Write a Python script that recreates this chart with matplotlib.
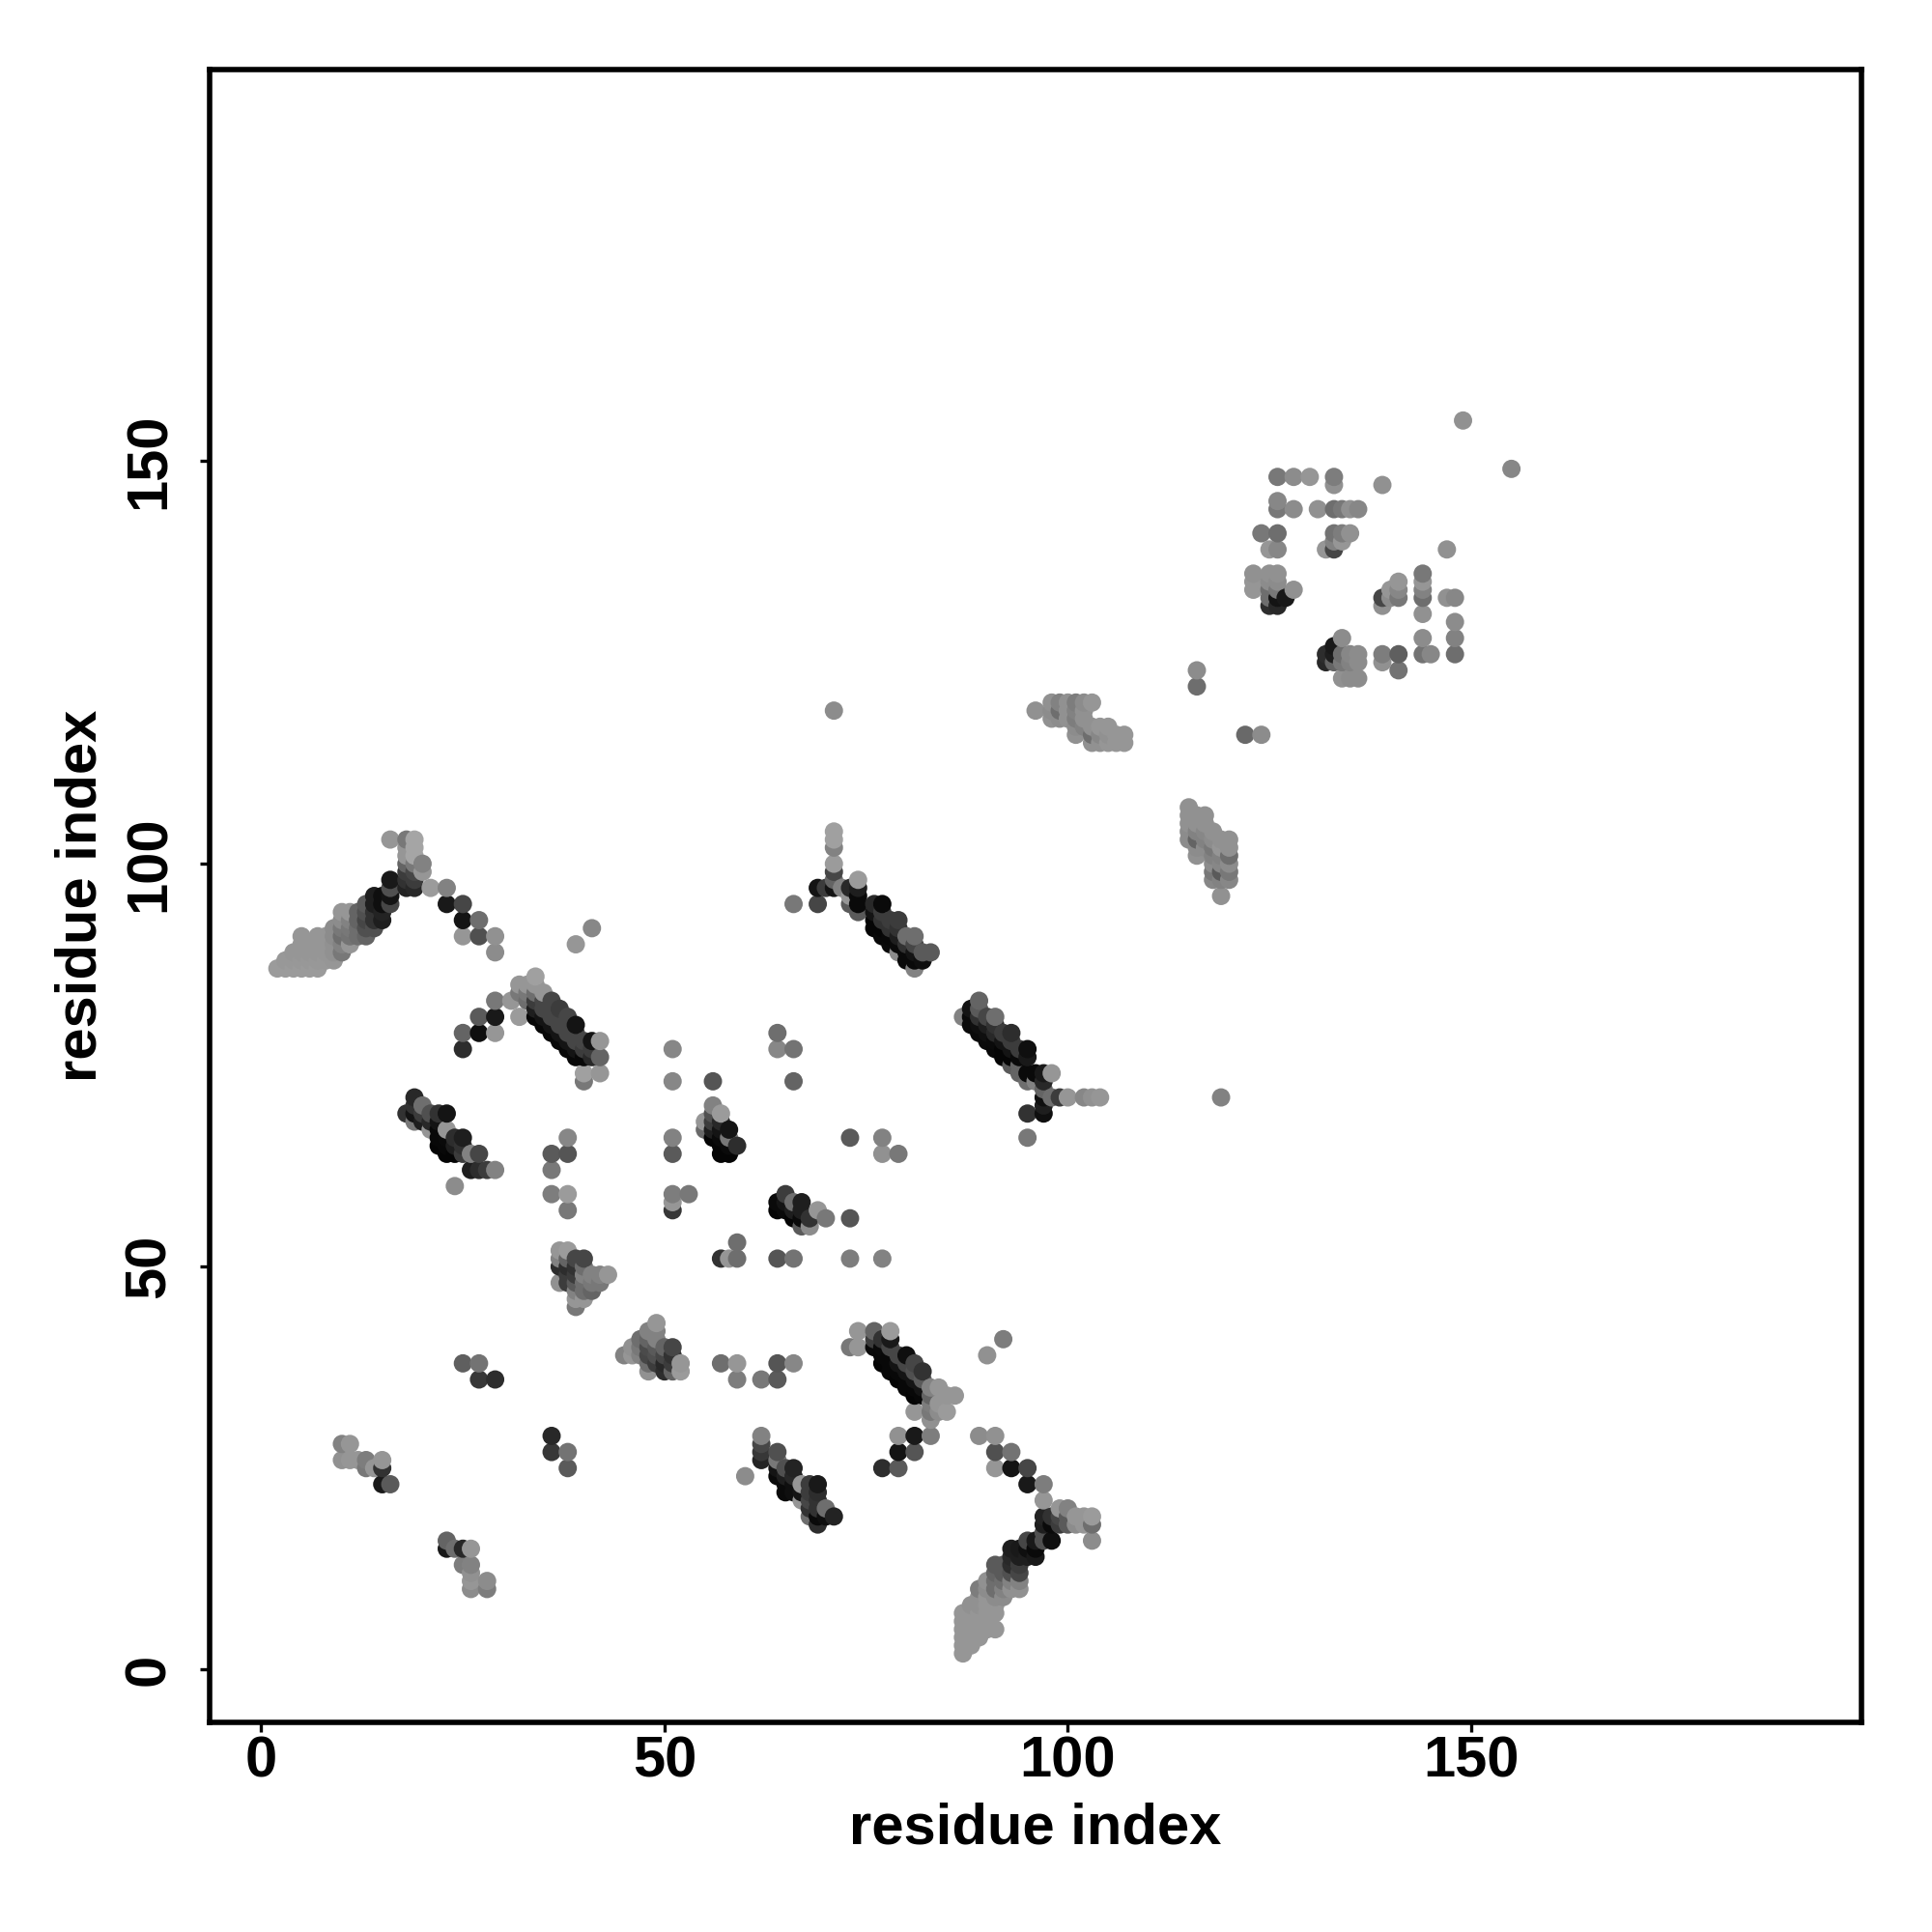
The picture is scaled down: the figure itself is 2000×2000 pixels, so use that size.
import numpy as np
import matplotlib
matplotlib.use('Agg')
import matplotlib.pyplot as plt

plt.rcParams['font.family'] = ['Liberation Sans', 'DejaVu Sans']

# contacts as (residue i, residue j, grey level 0-255), one list per cluster
strand_a = [(2,87,155),(3,87,155),(4,87,155),(5,87,155),(6,87,155),(7,87,155),
            (3,88,152),(4,88,152),(5,88,152),(6,88,152),(7,88,152),(8,88,152),(9,88,150),
            (4,89,150),(5,89,150),(6,89,150),(7,89,150),(8,89,150),(9,89,145),(10,89,120),
            (5,90,150),(6,90,150),(7,90,150),(8,90,150),(9,90,145),(10,90,130),(11,90,150),
            (5,91,150),(7,91,150),(8,91,150),(9,91,140),(10,91,110),(11,91,115),(12,91,110),(13,91,100),
            (9,92,140),(10,92,120),(11,92,120),(12,92,110),(13,92,80),(14,92,80),
            (10,93,140),(11,93,130),(12,93,100),(13,93,70),(14,93,50),(15,93,30),
            (10,94,150),(11,94,150),(12,94,100),(13,94,80),(14,94,50),(15,94,35),
            (13,95,90),(14,95,30),(15,95,15),(16,95,70),
            (14,96,30),(15,96,15),(16,96,20),(16,97,80),(16,98,25),
            (18,97,35),(19,97,40),(18,98,50),(19,98,60),(18,99,60),(19,99,70),(18,100,100),(19,100,120),
            (20,99,150),(20,100,130),(18,101,150),(19,101,165),(18,102,150),(19,102,165),
            (16,103,150),(18,103,120),(19,103,165),
            (21,97,155),(23,97,130),(23,95,25),(25,95,70),(25,93,20),(27,93,110),
            (25,91,150),(27,91,80),(29,91,145),(29,89,140),(39,90,150),(41,92,135)]

strand_b = [(25,77,45),(25,79,100),(27,79,15),(29,79,150),(27,81,90),(29,81,25),(29,83,120),(31,83,150),
            (32,84,120),(33,84,120),(32,85,150),(33,85,150),(34,85,150),(34,86,160),(35,84,150),(32,81,155),(33,83,110),
            (34,84,110),(34,83,60),(35,83,70),(36,83,70),(37,82,60),(36,82,70),(35,82,70),(34,82,30),
            (38,81,70),(37,81,70),(36,81,70),(35,81,20),(34,81,8),
            (38,80,70),(37,80,70),(36,80,20),(35,80,8),(39,80,20),
            (39,79,70),(38,79,70),(37,79,20),(36,79,8),
            (40,78,70),(39,78,70),(38,78,20),(37,78,8),(41,78,20),(42,78,150),
            (41,77,60),(40,77,60),(39,77,20),(38,77,8),
            (41,76,40),(40,76,8),(39,76,8),(42,76,100),(40,73,120),(40,74,160),(42,74,150)]

strand_c = [(18,69,50),(19,71,40),(19,70,50),(20,70,110),(19,69,20),(20,69,60),(21,69,80),(22,69,50),(23,69,20),
            (19,68,120),(20,68,30),(21,68,40),(22,68,20),(21,67,150),(22,67,8),(23,67,150),
            (22,66,8),(23,66,10),(24,66,45),(25,66,30),(22,65,5),(23,65,8),(24,65,30),(25,65,50),
            (23,64,5),(24,64,5),(25,64,60),(26,64,130),(27,64,70),
            (26,62,30),(27,62,45),(28,62,60),(29,62,130),(24,60,140),
            (38,66,135),(36,64,90),(38,64,85),(36,62,120),(36,59,125),(38,59,155),(38,57,120)]

cluster_d = [(51,77,135),(51,73,135),(56,73,85),(51,66,130),(51,64,90),(51,59,125),(53,59,120),(51,58,150),(51,57,55),
             (55,68,150),(55,67,105),(56,68,60),(56,67,30),(56,66,5),(56,69,80),(56,70,130),(57,69,155),
             (57,68,40),(57,67,20),(57,66,10),(57,65,5),(57,64,5),(58,64,5),(58,65,10),(58,66,120),(58,67,20),(59,65,45)]

cluster_e = [(37,52,150),(38,52,155),(37,51,130),(38,51,100),(39,51,70),(40,51,70),(37,50,45),(38,50,45),(39,50,50),(40,50,110),
             (37,48,145),(38,49,60),(39,49,60),(40,49,130),(41,49,130),(42,49,130),(43,49,150),
             (38,48,60),(39,48,90),(40,48,110),(41,48,120),(42,48,120),(39,47,130),(40,47,110),(41,47,100),
             (39,46,150),(40,46,150),(39,45,120)]

cluster_f = [(49,43,150),(48,42,130),(49,42,130),(47,41,110),(48,41,100),(49,41,130),(46,40,145),(47,40,120),(48,40,75),(49,40,90),(50,40,100),(51,40,70),
             (45,39,130),(46,39,150),(47,39,130),(48,39,70),(49,39,80),(50,39,70),(51,39,50),
             (48,38,110),(49,38,60),(50,38,40),(51,38,60),(52,38,150),(48,37,145),(50,37,45),(51,37,100),(52,37,155)]

small_d = [(25,38,95),(27,38,115),(27,36,55),(29,36,45),(36,29,40),(36,27,55),(38,27,115),(38,25,90),
           (10,28,130),(11,28,150),(10,26,145),(11,26,150),(12,26,150),(13,26,125),(13,25,120),(14,25,150),
           (15,25,50),(15,26,150),(15,23,25),(16,23,90),
           (23,15,25),(23,16,100),(24,15,110),(25,15,40),(26,15,150),(25,13,125),(26,13,130),(26,12,145),(26,11,150),(26,10,140),
           (28,10,125),(28,11,140)]

cluster_i = [(65,59,60),(64,58,10),(65,58,20),(66,58,110),(67,58,30),(64,57,5),(65,57,10),(66,57,30),(67,57,30),(69,57,150),
             (66,56,5),(67,56,10),(68,56,50),(70,56,120),(67,55,90),(68,55,140),(73,56,85),
             (57,51,50),(58,51,150),(59,51,110),(59,53,110),(64,51,85),(66,51,115),(73,51,125),(77,51,130)]

strand_j = [(57,38,110),(59,38,150),(59,36,125),(62,36,120),(64,38,85),(66,38,135),(64,36,90),
            (73,40,120),(74,40,150),(74,42,150),(76,42,100),(78,42,155),(76,41,60),(77,41,50),(78,41,25),
            (76,40,10),(77,40,10),(78,40,70),(77,39,8),(78,39,8),(79,39,70),(80,39,15),
            (77,38,5),(78,38,8),(79,38,20),(80,38,70),(81,38,70),(78,37,8),(79,37,8),(80,37,20),(81,37,80),(82,37,50),
            (79,36,5),(80,36,8),(81,36,20),(82,36,90),(80,35,8),(81,35,8),(82,35,20),(83,35,130),(84,35,150),
            (81,34,5),(82,34,8),(83,34,100),(85,34,150),(86,34,150),(81,32,150),(83,33,125),(84,33,150),
            (83,32,120),(84,32,140),(85,32,155),(83,31,145),(92,41,125),(90,39,145),
            (79,29,145),(81,29,25),(83,29,125),(79,27,20),(81,27,85),(77,25,45),(79,25,90)]

strand_k = [(62,29,130),(62,28,70),(62,27,55),(62,26,35),(64,27,80),(64,26,120),(64,25,20),(65,25,80),(66,25,35),(60,24,140),
            (64,24,10),(65,24,30),(66,24,40),(65,23,10),(66,23,15),(67,23,150),(65,22,10),(66,22,15),(67,22,20),
            (68,23,60),(69,23,25),(68,22,60),(69,22,45),(67,21,150),(68,21,70),(69,21,50),(68,20,50),(69,20,50),(70,20,110),
            (68,19,110),(69,19,10),(70,19,15),(71,19,35),(69,18,45)]

strand_l = [(87,2,150),(87,3,150),(88,3,150),(87,4,150),(88,4,150),(89,4,150),
            (87,5,150),(88,5,150),(89,5,150),(90,5,150),(91,5,150),(87,6,150),(88,6,150),(89,6,150),(90,6,150),
            (87,7,150),(88,7,150),(89,7,150),(90,7,150),(91,7,150),(88,8,145),(89,8,145),(90,8,150),(91,8,150),
            (89,9,145),(90,9,150),(91,9,140),(92,9,140),(89,10,125),(90,10,140),(91,10,110),(92,10,130),(93,10,145),(94,10,145),
            (90,11,145),(91,11,110),(92,11,110),(93,11,130),(94,11,130),(91,12,100),(92,12,90),(93,12,80),(94,12,70),
            (91,13,90),(92,13,90),(93,13,45),(94,13,60),(93,14,40),(94,14,30),(95,14,30),(96,14,25),
            (93,15,30),(94,15,25),(95,15,15),(96,15,10),(95,16,70),(96,16,25),(97,16,80),(98,16,15),(97,17,80),
            (97,18,30),(98,18,10),(99,18,60),(100,18,90),(101,18,140),(102,18,150),(103,18,110),
            (97,19,35),(98,19,50),(99,19,70),(100,19,90),(101,19,150),(102,19,150),(103,19,155),(103,16,140),
            (99,20,150),(100,20,130),(97,21,150),(97,23,125),(95,23,25),
            (89,29,140),(91,29,145),(91,27,80),(93,27,115),(91,25,150),(93,25,20),(95,25,70)]

strand_m = [(71,104,160),(71,103,160),(71,102,130),(71,100,155),(71,99,70),(71,98,100),(69,97,20),(70,97,60),(71,97,20),(72,97,130),
            (74,98,155),(73,97,40),(74,97,30),(73,96,150),(74,96,10),(73,95,90),(74,95,10),(74,94,90),(66,95,120),(69,95,70),
            (76,95,40),(77,95,10),(76,94,20),(77,94,60),(76,93,5),(77,93,50),(78,93,60),(79,93,60),(76,92,5),(77,92,5),(78,92,50),(79,92,50),
            (77,91,8),(78,91,8),(79,91,30),(80,91,110),(81,91,110),(78,90,10),(79,90,10),(80,90,50),(81,90,70),
            (79,89,140),(80,89,10),(81,89,20),(82,89,90),(83,89,90),(80,88,10),(81,88,10),(82,88,15),(81,87,130)]

strand_n = [(87,81,130),(88,82,20),(89,83,100),(89,82,90),(88,81,10),(89,81,50),(90,81,70),(91,81,110),
            (88,80,10),(89,80,15),(90,80,30),(91,80,50),(89,79,10),(90,79,15),(91,79,40),(92,79,60),(93,79,45),
            (90,78,10),(91,78,10),(92,78,20),(93,78,60),(91,77,8),(92,77,5),(93,77,20),(94,77,60),(95,77,15),
            (92,76,5),(93,76,5),(94,76,10),(95,76,25),(93,75,90),(94,75,100),(94,74,100),(95,74,10),(96,74,10),(97,74,25),(98,74,150),
            (95,73,110),(96,73,130),(97,73,40),(97,72,100),(97,71,15),(98,71,110),(99,71,60),(100,71,150),(102,71,135),(103,71,145),(104,71,150),
            (97,70,30),(97,69,15),(95,69,50),(95,66,120),(119,71,130),
            (64,79,110),(64,77,135),(66,77,115),(66,73,100),(73,66,90),(77,66,130),(77,64,145),(79,64,120)]

cluster_o = [(71,119,140),(96,119,145),(98,120,145),(99,120,130),(100,120,145),(101,120,125),(102,120,140),(103,120,150),
             (98,119,140),(99,119,110),(100,119,145),(101,119,130),(102,119,145),
             (98,118,145),(99,118,140),(100,118,145),(101,118,125),(102,118,145),
             (101,117,140),(102,117,130),(103,117,145),(104,117,150),(105,117,150),
             (101,116,145),(103,116,110),(104,116,135),(105,116,145),(106,116,150),(107,116,150),
             (103,115,145),(104,115,145),(105,115,150),(106,115,150),(107,115,150),
             (116,124,140),(116,122,110),(122,116,105),(124,116,140)]

cluster_p = [(115,107,145),(115,106,145),(115,105,145),(115,104,140),(115,103,140),(116,106,145),(116,105,145),(116,104,130),(116,103,100),(116,102,140),(116,101,145),
             (117,106,145),(117,105,145),(117,104,135),(117,103,130),(117,102,140),(118,104,145),(118,103,140),(118,102,120),(118,101,130),(118,100,140),(118,99,120),(118,98,135),
             (119,103,145),(119,102,150),(119,101,130),(119,100,135),(119,99,90),(119,98,130),(119,96,145),
             (120,103,145),(120,102,145),(120,101,110),(120,100,140),(120,99,120),(120,98,135)]

cluster_q = [(149,155,145),(155,149,135),(126,148,120),(128,148,140),(130,148,150),(133,148,125),(133,147,145),(139,147,145),
             (126,144,120),(126,145,135),(128,144,140),(131,144,145),(133,144,110),(134,144,120),(135,144,145),(136,144,135),
             (124,141,120),(126,141,110),(133,141,115),(134,141,125),(135,141,145),(125,139,150),(126,139,135),(132,139,150),(133,139,70),(133,140,130),(134,140,150),(147,139,145),
             (123,136,145),(123,135,150),(123,134,150),(125,136,145),(125,135,140),(125,134,110),(126,136,145),(126,135,140),(126,134,120),
             (125,133,110),(125,132,45),(126,132,40),(126,133,20),(127,133,25),(128,134,145),
             (144,136,120),(144,135,150),(144,134,130),(144,133,110),(141,135,150),(140,134,150),(141,134,135),(139,132,145),(139,133,70),(140,133,140),(141,133,120),
             (144,131,145),(147,133,145),(148,133,135),(148,130,140),(144,128,140),(148,128,130),(133,127,25),(134,128,140),(144,126,115),(145,126,135),(148,126,110),
             (132,126,45),(133,126,30),(134,126,110),(135,126,135),(136,126,140),(132,125,40),(133,125,100),(134,125,120),(135,125,130),(136,125,140),
             (139,125,145),(139,126,125),(141,126,95),(141,124,115),(134,123,145),(135,123,140),(136,123,140)]

clusters = [strand_a, strand_b, strand_c, cluster_d, cluster_e, cluster_f, small_d, cluster_i, strand_j,
            strand_k, strand_l, strand_m, strand_n, cluster_o, cluster_p, cluster_q]
tick_values = [0, 50, 100, 150]

fig = plt.figure(figsize=(20, 20), dpi=100)
ax = fig.add_axes([217 / 2000, 1 - 1783 / 2000, (1927 - 217) / 2000, (1783 - 72) / 2000])

# drawn in residue order, later contacts sit on top of earlier ones
pts = np.array([p for c in clusters for p in c])
pts = pts[np.lexsort((pts[:, 1], pts[:, 0]))]
ax.scatter(pts[:, 0], pts[:, 1], c=pts[:, 2], cmap='gray', vmin=0, vmax=255, s=186, linewidths=0, zorder=3)

ax.set_xlim(-6.4, 198.4)
ax.set_ylim(-6.55, 198.55)
ax.set_xticks(tick_values)
ax.set_yticks(tick_values)
ax.tick_params(length=7, width=2.4, labelsize=43)
ax.tick_params(axis='x', pad=2.5)
ax.tick_params(axis='y', pad=18)
for lab in ax.get_xticklabels() + ax.get_yticklabels():
    lab.set_fontweight('bold')
for lab in ax.get_yticklabels():
    lab.set_rotation(90)
    lab.set_va('center')
for s in ax.spines.values():
    s.set_linewidth(4)
ax.set_xlabel('residue index', fontsize=43, fontweight='bold', labelpad=10)
ax.set_ylabel('residue index', fontsize=43, fontweight='bold', labelpad=11)

plt.savefig('out.png', dpi=100)
